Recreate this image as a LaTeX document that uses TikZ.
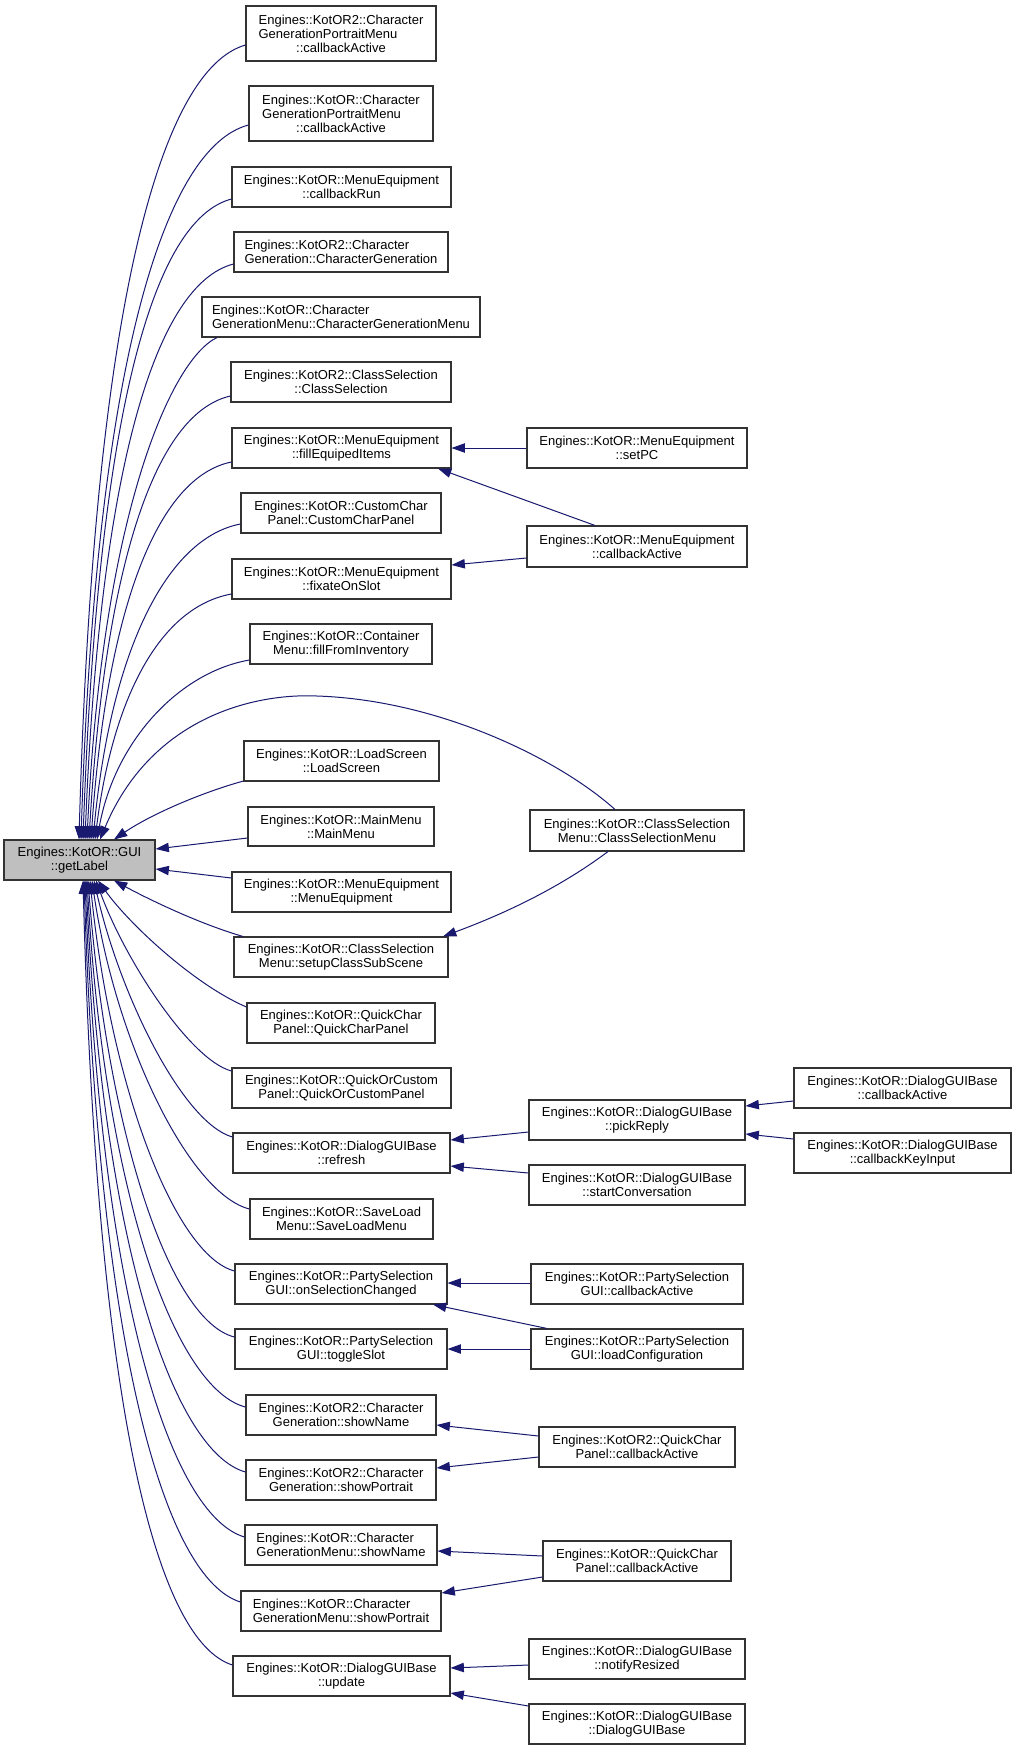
\documentclass[tikz,border=0pt]{standalone}
\usepackage{fontspec}
\setmainfont{Liberation Sans}
\usepackage{calc}
\usetikzlibrary{arrows.meta}
\definecolor{edgec}{HTML}{191970}
\definecolor{boxc}{HTML}{333333}
\definecolor{rootc}{HTML}{BFBFBF}
\tikzset{
  box/.style={draw=boxc, line width=0.8pt, fill=white, inner sep=0pt, align=center,
    font=\fontsize{9.75}{10.5}\selectfont},
  root/.style={fill=rootc},
  edge/.style={draw=edgec, line width=0.75pt, -{Triangle[length=10pt,width=7pt]}},
}
\newcommand\bx[7][]{\node[box,#1,minimum width={(#5-#3)*0.75pt},minimum height={(#6-#4)*0.75pt}] (#2) at ({(#3+#5)/2},{(#4+#6)/2}) {#7};}
\begin{document}
\begin{tikzpicture}[x=0.75pt,y=-0.75pt]
\fill[white] (0,0) rectangle (1016,1750);
\useasboundingbox (0,0) rectangle (1016,1750);
% root
\bx[root]{gl}{4}{840}{155}{880}{Engines::KotOR::GUI\\::getLabel}
% middle column
\bx[align=left]{n1}{246}{6}{436}{61}{Engines::KotOR2::Character\\GenerationPortraitMenu\\\makebox[\widthof{Engines::KotOR2::Character}]{::callbackActive}}
\bx[align=left]{n2}{249}{86}{433}{141}{Engines::KotOR::Character\\GenerationPortraitMenu\\\makebox[\widthof{Engines::KotOR::Character}]{::callbackActive}}
\bx{n3}{232}{167}{451}{207}{Engines::KotOR::MenuEquipment\\::callbackRun}
\bx[align=left]{n4}{234}{232}{448}{272}{Engines::KotOR2::Character\\Generation::CharacterGeneration}
\bx[align=left]{n5}{202}{297}{480}{337}{Engines::KotOR::Character\\GenerationMenu::CharacterGenerationMenu}
\bx{n6}{231}{362}{451}{402}{Engines::KotOR2::ClassSelection\\::ClassSelection}
\bx{n7}{232}{428}{451}{468}{Engines::KotOR::MenuEquipment\\::fillEquipedItems}
\bx{n8}{241}{493}{441}{533}{Engines::KotOR::CustomChar\\Panel::CustomCharPanel}
\bx{n9}{232}{559}{451}{599}{Engines::KotOR::MenuEquipment\\::fixateOnSlot}
\bx{n10}{250}{624}{432}{664}{Engines::KotOR::Container\\Menu::fillFromInventory}
\bx{n11}{244}{741}{439}{781}{Engines::KotOR::LoadScreen\\::LoadScreen}
\bx{n12}{248}{807}{434}{846}{Engines::KotOR::MainMenu\\::MainMenu}
\bx{n13}{232}{872}{451}{912}{Engines::KotOR::MenuEquipment\\::MenuEquipment}
\bx{n14}{234}{937}{448}{977}{Engines::KotOR::ClassSelection\\Menu::setupClassSubScene}
\bx{n15}{247}{1003}{435}{1043}{Engines::KotOR::QuickChar\\Panel::QuickCharPanel}
\bx{n16}{232}{1068}{451}{1108}{Engines::KotOR::QuickOrCustom\\Panel::QuickOrCustomPanel}
\bx{n17}{233}{1133}{450}{1173}{Engines::KotOR::DialogGUIBase\\::refresh}
\bx{n18}{250}{1199}{433}{1239}{Engines::KotOR::SaveLoad\\Menu::SaveLoadMenu}
\bx{n19}{235}{1264}{447}{1304}{Engines::KotOR::PartySelection\\GUI::onSelectionChanged}
\bx{n20}{235}{1329}{447}{1369}{Engines::KotOR::PartySelection\\GUI::toggleSlot}
\bx{n21}{246}{1395}{436}{1435}{Engines::KotOR2::Character\\Generation::showName}
\bx{n22}{246}{1460}{436}{1500}{Engines::KotOR2::Character\\Generation::showPortrait}
\bx[align=left]{n23}{245}{1525}{437}{1565}{Engines::KotOR::Character\\GenerationMenu::showName}
\bx[align=left]{n24}{241}{1591}{441}{1631}{Engines::KotOR::Character\\GenerationMenu::showPortrait}
\bx{n25}{233}{1656}{450}{1696}{Engines::KotOR::DialogGUIBase\\::update}
% right column
\bx{r1}{527}{428}{747}{468}{Engines::KotOR::MenuEquipment\\::setPC}
\bx{r2}{527}{526}{747}{567}{Engines::KotOR::MenuEquipment\\::callbackActive}
\bx{r3}{530}{810}{744}{851}{Engines::KotOR::ClassSelection\\Menu::ClassSelectionMenu}
\bx{r4}{529}{1100}{745}{1140}{Engines::KotOR::DialogGUIBase\\::pickReply}
\bx{r5}{529}{1165}{745}{1205}{Engines::KotOR::DialogGUIBase\\::startConversation}
\bx{r6}{531}{1264}{743}{1304}{Engines::KotOR::PartySelection\\GUI::callbackActive}
\bx{r7}{531}{1329}{743}{1369}{Engines::KotOR::PartySelection\\GUI::loadConfiguration}
\bx{r8}{539}{1427}{735}{1467}{Engines::KotOR2::QuickChar\\Panel::callbackActive}
\bx{r9}{543}{1541}{731}{1581}{Engines::KotOR::QuickChar\\Panel::callbackActive}
\bx{r10}{529}{1639}{745}{1679}{Engines::KotOR::DialogGUIBase\\::notifyResized}
\bx{r11}{529}{1704}{745}{1744}{Engines::KotOR::DialogGUIBase\\::DialogGUIBase}
\bx{rr1}{794}{1068}{1011}{1108}{Engines::KotOR::DialogGUIBase\\::callbackActive}
\bx{rr2}{794}{1133}{1011}{1173}{Engines::KotOR::DialogGUIBase\\::callbackKeyInput}
% fan edges into getLabel (upper)
\draw[edge] (n1.west |- 0,45) .. controls (162,69) and (94,299) .. (gl.north -| 79,0);
\draw[edge] (n2.west |- 0,125) .. controls (165,147) and (96,361) .. (gl.north -| 81,0);
\draw[edge] (n3.west |- 0,199) .. controls (152,220) and (98,417) .. (gl.north -| 83,0);
\draw[edge] (n4.west |- 0,264) .. controls (156,284) and (100,466) .. (gl.north -| 85,0);
\draw[edge] (n5.south -| 217,0) .. controls (170,360) and (102,518) .. (gl.north -| 87,0);
\draw[edge] (n6.west |- 0,396) .. controls (155,413) and (105,565) .. (gl.north -| 89,0);
\draw[edge] (n7.west |- 0,462) .. controls (157,477) and (107,609) .. (gl.north -| 91,0);
\draw[edge] (n8.west |- 0,524) .. controls (167,538) and (111,650) .. (gl.north -| 93,0);
\draw[edge] (n9.west |- 0,594) .. controls (160,607) and (113,697) .. (gl.north -| 95,0);
\draw[edge] (n10.west |- 0,660) .. controls (180,672) and (115,740) .. (gl.north -| 97,0);
\draw[edge] (r3.north -| 615,0) .. controls (560,760) and (440,700) .. (317,696)
  .. controls (250,693) and (150,720) .. (gl.north -| 100,0);
\draw[edge] (n11.west |- 0,781) .. controls (200,793) and (150,815) .. (gl.north -| 114,0);
\draw[edge] (n12.west |- 0,838) -- (gl.east |- 0,849);
\draw[edge] (n13.west |- 0,878) -- (gl.east |- 0,869);
% fan edges into getLabel (lower)
\draw[edge] (n14.north -| 243,0) .. controls (200,924) and (150,900) .. (gl.south -| 114,0);
\draw[edge] (n15.west |- 0,1007) .. controls (195,985) and (130,925) .. (gl.south -| 98,0);
\draw[edge] (n16.west |- 0,1071) .. controls (190,1060) and (125,960) .. (gl.south -| 96,0);
\draw[edge] (n17.west |- 0,1137) .. controls (183,1123) and (120,996) .. (gl.south -| 94,0);
\draw[edge] (n18.west |- 0,1209) .. controls (190,1194) and (116,1045) .. (gl.south -| 92,0);
\draw[edge] (n19.west |- 0,1271) .. controls (175,1255) and (111,1088) .. (gl.south -| 90,0);
\draw[edge] (n20.west |- 0,1337) .. controls (170,1321) and (108,1136) .. (gl.south -| 88,0);
\draw[edge] (n21.west |- 0,1407) .. controls (176,1389) and (105,1197) .. (gl.south -| 87,0);
\draw[edge] (n22.west |- 0,1472) .. controls (174,1452) and (103,1247) .. (gl.south -| 86,0);
\draw[edge] (n23.west |- 0,1537) .. controls (171,1515) and (101,1301) .. (gl.south -| 85,0);
\draw[edge] (n24.west |- 0,1602) .. controls (166,1579) and (99,1357) .. (gl.south -| 84,0);
\draw[edge] (n25.west |- 0,1665) .. controls (157,1641) and (97,1414) .. (gl.south -| 83,0);
% right-side edges
\draw[edge] (r1.west |- 0,448) -- (n7.east |- 0,448);
\draw[edge] (r2.north -| 595,0) -- (n7.south -| 438,0);
\draw[edge] (r2.west |- 0,558) -- (n9.east |- 0,565);
\draw[edge] (r3.south -| 608,0) .. controls (570,880) and (520,908) .. (n14.north -| 443,0);
\draw[edge] (r4.west |- 0,1132) -- (n17.east |- 0,1140);
\draw[edge] (r5.west |- 0,1173) -- (n17.east |- 0,1166);
\draw[edge] (rr1.west |- 0,1101) -- (r4.east |- 0,1106);
\draw[edge] (rr2.west |- 0,1139) -- (r4.east |- 0,1134);
\draw[edge] (r6.west |- 0,1283) -- (n19.east |- 0,1283);
\draw[edge] (r7.north -| 547,0) -- (n19.south -| 433,0);
\draw[edge] (r7.west |- 0,1349) -- (n20.east |- 0,1349);
\draw[edge] (r8.west |- 0,1436) -- (n21.east |- 0,1425);
\draw[edge] (r8.west |- 0,1457) -- (n22.east |- 0,1468);
\draw[edge] (r9.west |- 0,1556) -- (n23.east |- 0,1551);
\draw[edge] (r9.west |- 0,1577) -- (n24.east |- 0,1593);
\draw[edge] (r10.west |- 0,1665) -- (n25.east |- 0,1668);
\draw[edge] (r11.west |- 0,1706) -- (n25.east |- 0,1693);
\end{tikzpicture}
\end{document}
